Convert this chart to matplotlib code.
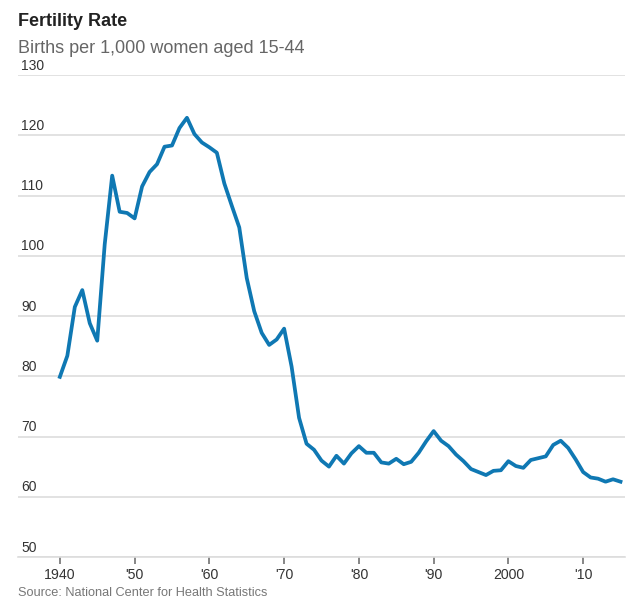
import numpy as np
import matplotlib.pyplot as plt

# General fertility rate, births per 1,000 women aged 15-44
years = list(range(1940, 2016))
rate = [79.9, 83.4, 91.5, 94.3, 88.8, 85.9, 101.9, 113.3, 107.3, 107.1,
        106.2, 111.5, 113.9, 115.2, 118.1, 118.3, 121.2, 122.9, 120.2, 118.8,
        118.0, 117.1, 112.0, 108.3, 104.7, 96.3, 90.8, 87.2, 85.2, 86.1,
        87.9, 81.6, 73.1, 68.8, 67.8, 66.0, 65.0, 66.8, 65.5, 67.2,
        68.4, 67.3, 67.3, 65.7, 65.5, 66.3, 65.4, 65.8, 67.3, 69.2,
        70.9, 69.3, 68.4, 67.0, 65.9, 64.6, 64.1, 63.6, 64.3, 64.4,
        65.9, 65.1, 64.8, 66.1, 66.4, 66.7, 68.6, 69.3, 68.1, 66.2,
        64.1, 63.2, 63.0, 62.5, 62.9, 62.5]

y_ticks = [50, 60, 70, 80, 90, 100, 110, 120, 130]
x_ticks = [1940, 1950, 1960, 1970, 1980, 1990, 2000, 2010]
x_labels = ["1940", "'50", "'60", "'70", "'80", "'90", "2000", "'10"]

plt.rcParams['font.family'] = ['Liberation Sans', 'DejaVu Sans']

fig = plt.figure(figsize=(6.4, 6.01), dpi=100)
ax = fig.add_axes([18 / 640, (601 - 557) / 601, 607 / 640, 482 / 601])

ax.plot(years, rate, color='#0f78b3', lw=2.7, solid_joinstyle='round', zorder=3)

ax.set_xlim(1934.4, 2015.6)
ax.set_ylim(50, 130)

for v in y_ticks:
    ax.axhline(v, color='#dddddd', lw=1.2, zorder=1)
    ax.text(0.005, v + 0.4, str(v), transform=ax.get_yaxis_transform(),
            ha='left', va='bottom', fontsize=10, color='#333333')

ax.set_yticks([])
ax.set_xticks(x_ticks)
ax.set_xticklabels(x_labels, fontsize=10.2, color='#333333')
ax.tick_params(axis='x', length=5, width=1.1, color='#666666', pad=3)

for s in ['top', 'right', 'left']:
    ax.spines[s].set_visible(False)
ax.spines['bottom'].set_color('#dddddd')
ax.spines['bottom'].set_linewidth(1.2)

fig.text(18 / 640, 1 - 13 / 601, "Fertility Rate", fontsize=13, fontweight='bold',
         color='#222222', ha='left', va='top')
fig.text(18 / 640, 1 - 40 / 601, "Births per 1,000 women aged 15-44", fontsize=13,
         color='#666666', ha='left', va='top')
fig.text(18 / 640, 1 - 587 / 601, "Source: National Center for Health Statistics",
         fontsize=9.2, color='#777777', ha='left', va='top')

fig.savefig('out.png', dpi=100)
